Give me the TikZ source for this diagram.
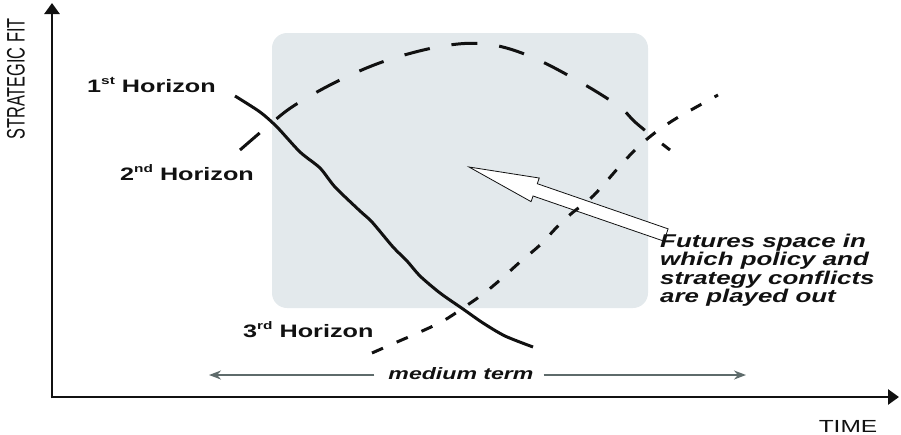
\documentclass[tikz,border=0pt]{standalone}
\usepackage{fontspec}
\usepackage{graphicx}
\setmainfont{Liberation Sans}
\newfontfamily\wf[FakeStretch=1.4]{Liberation Sans}
\usetikzlibrary{arrows.meta,calc}
\definecolor{boxfill}{HTML}{E3E9EC}
\definecolor{mtgray}{HTML}{5E6B6B}
\definecolor{ink}{HTML}{111111}
\newcommand\hsup[1]{\raisebox{0.42em}{\fontsize{11}{11}\selectfont #1}}
\tikzset{
  axisline/.style={line width=2.6pt, ink, -{Triangle[length=11pt,width=15pt]}},
  curve/.style={line width=3pt, ink},
  hlabel/.style={anchor=base west, inner sep=0pt, text=ink, font={\wf\fontsize{18}{20}\selectfont\bfseries}},
  notetext/.style={anchor=north west, inner sep=0pt, align=left, text=ink, font={\wf\fontsize{18.5}{18.6}\selectfont\bfseries\itshape}},
  mtarrow/.style={line width=1.8pt, mtgray, -{Stealth[length=12pt,width=9pt]}},
}
\begin{document}
\begin{tikzpicture}[x=1pt,y=-1pt]
\useasboundingbox (0,0) rectangle (901,434);
% shaded futures space
\fill[boxfill, rounded corners=15pt] (272,33) rectangle (648,308);
% block arrow
\coordinate (atip) at (469,167);
\coordinate (atail) at (666,235);
\coordinate (ahb) at ($(atip)!70pt!(atail)$);
\draw[line width=0.8pt, ink, fill=white, line join=miter]
  (atip) -- ($(ahb)!12.5pt!90:(atail)$) -- ($(ahb)!6.5pt!90:(atail)$)
  -- ($(atail)!6.5pt!-90:(ahb)$) -- ($(atail)!6.5pt!90:(ahb)$)
  -- ($(ahb)!6.5pt!-90:(atail)$) -- ($(ahb)!12.5pt!-90:(atail)$) -- cycle;
% 1st horizon (solid)
\draw[curve] plot[smooth, tension=0.45] coordinates {(235,96) (260,112) (277,127) (300,152) (320,168) (335,187) (360,211) (372,222) (393,247) (407,261) (420,276) (440,293) (463,309) (483,323) (505,336) (533,347)};
% 2nd horizon (long dashes)
\draw[curve, dash pattern=on 26pt off 22pt] plot[smooth, tension=0.6] coordinates {(240,150) (268,126) (295,105) (340,80) (388,60) (443,46) (486,44) (527,55) (573,78) (617,105) (635,122) (652,136) (670,150)};
% 3rd horizon (short dashes)
\draw[curve, dash pattern=on 12pt off 15pt] plot[smooth, tension=0.6] coordinates {(372,353) (397,342) (420,332) (443,321) (463,308) (483,294) (500,280) (520,262) (540,245) (557,227) (572,213) (590,199) (605,183) (619,167) (635,150) (652,135) (672,121) (691,110) (718,95)};
% labels
\node[hlabel] (h1) at (87,92) {1\hsup{st} Horizon};
\node[hlabel] (h2) at (120,180) {2\hsup{nd} Horizon};
\node[hlabel] (h3) at (243,337) {3\hsup{rd} Horizon};
\node[notetext] (note) at (660,233.5) {Futures space in\\which policy and\\strategy conflicts\\are played out};
% medium term
\node[inner sep=0pt, text=ink, font={\wf\fontsize{16.5}{16.5}\selectfont\bfseries\itshape}] (mt) at (461,374) {medium term};
\coordinate (mtL) at (209,375);
\coordinate (mtR) at (746,375);
\draw[mtarrow] ($(mt.west)+(-14,1)$) -- (mtL);
\draw[mtarrow] ($(mt.east)+(10,1)$) -- (mtR);
% axes
\coordinate (O) at (52,397);
\coordinate (ytop) at (52,3);
\coordinate (xend) at (899,397);
\draw[axisline] ($(O)+(0,1.3)$) -- (ytop);
\draw[axisline] ($(O)+(-1.3,0)$) -- (xend);
\node[inner sep=0pt, text=ink] (yl) at (16,79) {\scalebox{1.55}[1]{\rotatebox{90}{\fontsize{16.3}{16.3}\selectfont STRATEGIC FIT}}};
\node[anchor=base, inner sep=0pt, text=ink, font={\wf\fontsize{17.5}{18}\selectfont}] (xl) at (848,432) {TIME};
\end{tikzpicture}
\end{document}
